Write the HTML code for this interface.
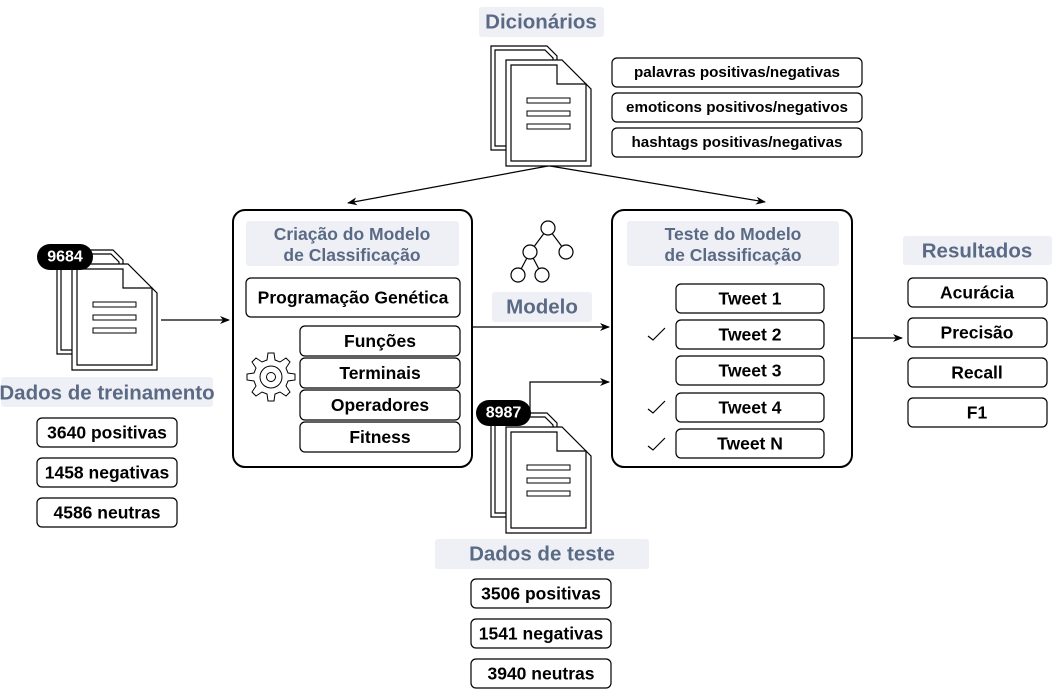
<!DOCTYPE html>
<html><head><meta charset="utf-8"><style>
html,body{margin:0;padding:0;background:#fff;}
svg{display:block;}
text{font-family:"Liberation Sans",Arial,sans-serif;font-weight:bold;}
.b{fill:#fff;stroke:#000;stroke-width:1.2;}
.t{font-size:17.5px;fill:#000;text-anchor:middle;dominant-baseline:central;}
.s{font-size:15.2px;fill:#000;text-anchor:middle;dominant-baseline:central;}
.h{font-size:20.5px;fill:#5a6a85;text-anchor:middle;dominant-baseline:central;}
.h2{font-size:17.5px;fill:#5a6a85;text-anchor:middle;dominant-baseline:central;}
.bg{fill:#eef0f5;}
.ln{stroke:#000;stroke-width:1.2;fill:none;}
</style></head><body>
<svg width="1053" height="691" viewBox="0 0 1053 691">
<defs>
<marker id="a" markerWidth="10" markerHeight="8" refX="9" refY="4" orient="auto" markerUnits="userSpaceOnUse"><path d="M0,0 L10,4 L0,8 L3,4 Z" fill="#000"/></marker>
<g id="doc">
<path d="M0,0 H56 L66,10 V104 H0 Z" fill="#fff" stroke="#000" stroke-width="1.2"/>
<path d="M4,4 H54 L62,12 V100 H4 Z" fill="none" stroke="#000" stroke-width="1.2"/>
<path d="M15,14 H71 L100,43 V120 H15 Z" fill="#fff" stroke="#000" stroke-width="1.2"/>
<path d="M20,19 H66 V38 H95 V115 H20 Z" fill="none" stroke="#000" stroke-width="1.2"/>
<rect x="36" y="52" width="43" height="5" fill="#fff" stroke="#000"/>
<rect x="36" y="65" width="43" height="5" fill="#fff" stroke="#000"/>
<rect x="36" y="78" width="43" height="5" fill="#fff" stroke="#000"/>
</g>
</defs>

<rect class="bg" x="479" y="7" width="125" height="30" rx="3"/>
<text class="h" x="541" y="22">Dicionários</text>
<use href="#doc" x="491" y="46"/>
<rect class="b" x="612" y="58" width="250" height="29" rx="5"/><text class="s" x="737" y="72.5">palavras positivas/negativas</text>
<rect class="b" x="612" y="93" width="250" height="29" rx="5"/><text class="s" x="737" y="107.5">emoticons positivos/negativos</text>
<rect class="b" x="612" y="128" width="250" height="29" rx="5"/><text class="s" x="737" y="142.5">hashtags positivas/negativas</text>
<line class="ln" x1="548" y1="166" x2="348" y2="203" marker-end="url(#a)"/>
<line class="ln" x1="550" y1="166" x2="765" y2="202" marker-end="url(#a)"/>

<rect x="233" y="210" width="239" height="257" rx="12" fill="#fff" stroke="#000" stroke-width="2"/>
<rect class="bg" x="246" y="221" width="213" height="45" rx="3"/>
<text class="h2" x="352" y="234">Criação do Modelo</text>
<text class="h2" x="352" y="255">de Classificação</text>
<rect class="b" x="246" y="278" width="214" height="39" rx="5"/><text class="t" x="353" y="297.5">Programação Genética</text>
<rect class="b" x="300" y="326" width="160" height="30" rx="5"/><text class="t" x="380" y="341">Funções</text>
<rect class="b" x="300" y="358" width="160" height="30" rx="5"/><text class="t" x="380" y="373">Terminais</text>
<rect class="b" x="300" y="390" width="160" height="30" rx="5"/><text class="t" x="380" y="405">Operadores</text>
<rect class="b" x="300" y="422" width="160" height="30" rx="5"/><text class="t" x="380" y="437">Fitness</text>
<g transform="translate(271,377)" fill="none" stroke="#000" stroke-width="1">
<path d="M-3,-24 L3,-24 L4,-17 L9,-15 L15,-19 L19,-15 L15,-9 L17,-4 L24,-3 L24,3 L17,4 L15,9 L19,15 L15,19 L9,15 L4,17 L3,24 L-3,24 L-4,17 L-9,15 L-15,19 L-19,15 L-15,9 L-17,4 L-24,3 L-24,-3 L-17,-4 L-15,-9 L-19,-15 L-15,-19 L-9,-15 L-4,-17 Z"/>
<circle r="11"/><circle r="4.5"/>
</g>

<use href="#doc" x="57" y="250"/>
<rect x="37" y="244" width="56" height="26" rx="13" fill="#000"/>
<text x="65" y="257" fill="#fff" font-size="16" text-anchor="middle" dominant-baseline="central">9684</text>
<line class="ln" x1="161" y1="320" x2="229" y2="320" marker-end="url(#a)"/>
<rect class="bg" x="1" y="377" width="212" height="30" rx="3"/>
<text class="h" x="107" y="393">Dados de treinamento</text>
<rect class="b" x="37" y="418" width="140" height="29" rx="5"/><text class="t" x="107" y="432.5">3640 positivas</text>
<rect class="b" x="37" y="458" width="140" height="29" rx="5"/><text class="t" x="107" y="472.5">1458 negativas</text>
<rect class="b" x="37" y="498" width="140" height="29" rx="5"/><text class="t" x="107" y="512.5">4586 neutras</text>

<g fill="#fff" stroke="#000" stroke-width="1.2">
<line x1="548" y1="228" x2="530" y2="252"/><line x1="548" y1="228" x2="566" y2="252"/>
<line x1="530" y1="252" x2="518" y2="275"/><line x1="530" y1="252" x2="542" y2="275"/>
<circle cx="548" cy="228" r="7"/><circle cx="530" cy="252" r="7"/><circle cx="566" cy="252" r="7"/><circle cx="518" cy="275" r="7"/><circle cx="542" cy="275" r="7"/>
</g>
<rect class="bg" x="492" y="292" width="100" height="30" rx="3"/>
<text class="h" x="542" y="307">Modelo</text>
<line class="ln" x1="472" y1="327" x2="609" y2="327" marker-end="url(#a)"/>
<path class="ln" d="M530,410 V382 H609" marker-end="url(#a)"/>

<use href="#doc" x="491" y="413"/>
<rect x="476" y="400" width="55" height="26" rx="13" fill="#000"/>
<text x="503.5" y="413" fill="#fff" font-size="16" text-anchor="middle" dominant-baseline="central">8987</text>
<rect class="bg" x="435" y="539" width="214" height="30" rx="3"/>
<text class="h" x="542" y="554">Dados de teste</text>
<rect class="b" x="471" y="579" width="140" height="29" rx="5"/><text class="t" x="541" y="593.5">3506 positivas</text>
<rect class="b" x="471" y="619" width="140" height="29" rx="5"/><text class="t" x="541" y="633.5">1541 negativas</text>
<rect class="b" x="471" y="659" width="140" height="29" rx="5"/><text class="t" x="541" y="673.5">3940 neutras</text>

<rect x="612" y="210" width="240" height="257" rx="12" fill="#fff" stroke="#000" stroke-width="2"/>
<rect class="bg" x="627" y="221" width="212" height="45" rx="3"/>
<text class="h2" x="733" y="234">Teste do Modelo</text>
<text class="h2" x="733" y="255">de Classificação</text>
<rect class="b" x="676" y="284" width="148" height="29" rx="5"/><text class="t" x="750" y="298.5">Tweet 1</text>
<rect class="b" x="676" y="320" width="148" height="29" rx="5"/><text class="t" x="750" y="334.5">Tweet 2</text>
<rect class="b" x="676" y="356" width="148" height="29" rx="5"/><text class="t" x="750" y="370.5">Tweet 3</text>
<rect class="b" x="676" y="393" width="148" height="29" rx="5"/><text class="t" x="750" y="407.5">Tweet 4</text>
<rect class="b" x="676" y="429" width="148" height="29" rx="5"/><text class="t" x="750" y="443.5">Tweet N</text>
<g class="ln" stroke-width="1"><path d="M648,336 L653,340 L665,328"/><path d="M648,409 L653,413 L665,401"/><path d="M648,446 L653,450 L665,438"/></g>
<line class="ln" x1="852" y1="338" x2="902" y2="338" marker-end="url(#a)"/>

<rect class="bg" x="903" y="236" width="149" height="29" rx="3"/>
<text class="h" x="977" y="251">Resultados</text>
<rect class="b" x="908" y="278" width="139" height="29" rx="5"/><text class="t" x="977" y="292.5">Acurácia</text>
<rect class="b" x="908" y="318" width="139" height="29" rx="5"/><text class="t" x="977" y="332.5">Precisão</text>
<rect class="b" x="908" y="358" width="139" height="29" rx="5"/><text class="t" x="977" y="372.5">Recall</text>
<rect class="b" x="908" y="398" width="139" height="29" rx="5"/><text class="t" x="977" y="412.5">F1</text>
</svg>
</body></html>
